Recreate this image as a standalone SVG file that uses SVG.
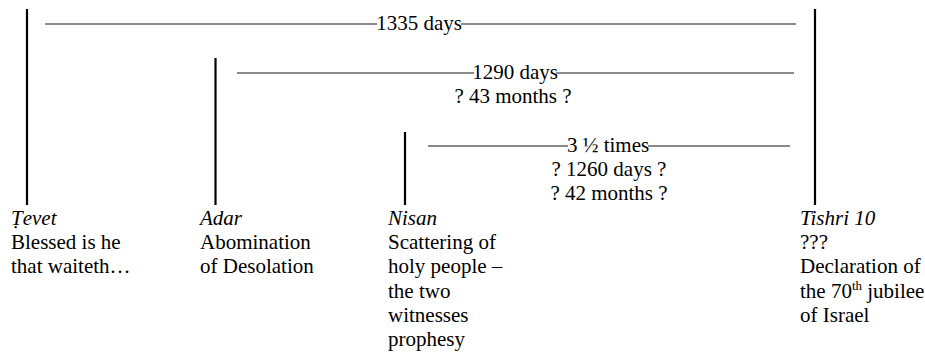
<svg xmlns="http://www.w3.org/2000/svg" width="925" height="354" viewBox="0 0 925 354">
<style>
text, tspan { font-family: "Liberation Serif", "Times New Roman", serif !important; }
text { font-size: 21px; fill: #000; }
.it { font-style: italic; }
.c { text-anchor: middle; }
.v { stroke: #000; stroke-width: 2.2; }
.h { stroke: #8a8a8a; stroke-width: 2; }
</style>
<rect width="925" height="354" fill="#fff"/>
<g id="connectors">
<line class="h" x1="45" y1="24" x2="377" y2="24"/>
<line class="h" x1="461" y1="24" x2="796" y2="24"/>
<line class="h" x1="237" y1="73" x2="474" y2="73"/>
<line class="h" x1="556" y1="73" x2="794" y2="73"/>
<line class="h" x1="428" y1="146" x2="568" y2="146"/>
<line class="h" x1="648" y1="146" x2="790" y2="146"/>
<text class="c" x="419" y="30" font-family="Liberation Serif">1335 days</text>
<text class="c" x="515" y="79" font-family="Liberation Serif">1290 days</text>
<text class="c" x="513" y="103" font-family="Liberation Serif">? 43 months ?</text>
<text class="c" x="608" y="152" font-family="Liberation Serif">3 &#189; times</text>
<text class="c" x="609" y="176" font-family="Liberation Serif">? 1260 days ?</text>
<text class="c" x="609" y="200" font-family="Liberation Serif">? 42 months ?</text>
</g>
<g id="tevet">
<line class="v" x1="27" y1="9" x2="27" y2="205"/>
<text x="11" y="225" class="it" font-family="Liberation Serif">&#7788;evet</text>
<text x="11" y="249" font-family="Liberation Serif">Blessed is he</text>
<text x="11" y="273" font-family="Liberation Serif">that waiteth&#8230;</text>
</g>
<g id="adar">
<line class="v" x1="215.5" y1="58" x2="215.5" y2="205"/>
<text x="200" y="225" class="it" font-family="Liberation Serif">Adar</text>
<text x="200" y="249" font-family="Liberation Serif">Abomination</text>
<text x="200" y="273" font-family="Liberation Serif">of Desolation</text>
</g>
<g id="nisan">
<line class="v" x1="405" y1="132" x2="405" y2="205"/>
<text x="388" y="225" class="it" font-family="Liberation Serif">Nisan</text>
<text x="388" y="249" font-family="Liberation Serif">Scattering of</text>
<text x="388" y="273" font-family="Liberation Serif">holy people &#8211;</text>
<text x="388" y="298" font-family="Liberation Serif">the two</text>
<text x="388" y="322" font-family="Liberation Serif">witnesses</text>
<text x="388" y="346" font-family="Liberation Serif">prophesy</text>
</g>
<g id="tishri">
<line class="v" x1="815" y1="9" x2="815" y2="205"/>
<text x="800" y="225" class="it" font-family="Liberation Serif">Tishri 10</text>
<text x="800" y="249" font-family="Liberation Serif">???</text>
<text x="800" y="273" font-family="Liberation Serif">Declaration of</text>
<text x="800" y="298" font-family="Liberation Serif">the 70<tspan font-size="13" dy="-8">th</tspan><tspan dy="8"> jubilee</tspan></text>
<text x="800" y="322" font-family="Liberation Serif">of Israel</text>
</g>
</svg>
